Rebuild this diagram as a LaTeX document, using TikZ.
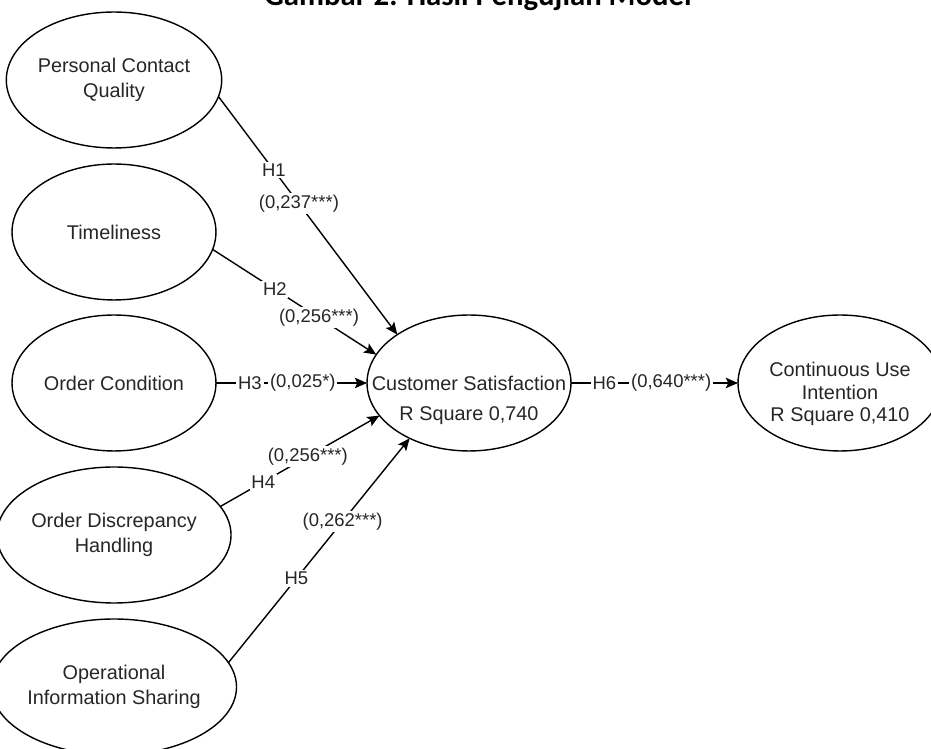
\documentclass[tikz,border=0pt]{standalone}
\usepackage{fontspec}
\setmainfont{Liberation Sans}
\newfontfamily\titlefont{Carlito}
\usetikzlibrary{shapes.geometric, arrows.meta}

\tikzset{
  construct/.style={draw, ellipse, minimum width=4.08cm, minimum height=2.72cm,
    inner sep=0pt, outer sep=0pt, align=center, text=black!85,
    font=\fontsize{11.3}{14.2}\selectfont},
  plain text/.style={inner sep=0pt, align=center, text=black!85,
    font=\fontsize{11.3}{14.2}\selectfont},
  path label/.style={fill=white, inner sep=1pt, text=black!85,
    font=\fontsize{10.5}{12}\selectfont},
}

\begin{document}
\begin{tikzpicture}[x=0.02cm, y=-0.02cm, line width=0.8pt,
    >={Stealth[length=7pt, width=6pt, inset=1.5pt]}]
    \useasboundingbox (0,0) rectangle (931,749);

    \node[anchor=base, font=\titlefont\bfseries\fontsize{17.5}{20}\selectfont]
        (title) at (478,6) {Gambar 2. Hasil Pengujian Model};

    % exogenous constructs
    \node[construct] (pcq) at (114,80) {Personal Contact\\Quality};
    \node[construct] (tim) at (114,232) {Timeliness};
    \node[construct] (oc) at (114,383) {Order Condition};
    \node[construct] (odh) at (114,535) {Order Discrepancy\\Handling};
    \node[construct] (ois) at (114,687) {Operational\\Information Sharing};

    % endogenous constructs
    \node[construct] (cs) at (469,383) {};
    \node[plain text] (cstext) at (469,383) {Customer Satisfaction};
    \node[plain text] (csr) at (469,416) {R Square 0,740};

    \node[construct] (cui) at (840,383) {};
    \node[plain text, font=\fontsize{11.3}{13}\selectfont] (cuitext) at (840,394)
        {Continuous Use\\Intention\\R Square 0,410};

    % paths
    \draw[->] (pcq.-9) -- node[path label, pos=0.31] (h1) {H1}
        node[path label, pos=0.45] (h1v) {(0,237***)} (cs.146);
    \draw[->] (tim.-10) -- node[path label, pos=0.38] (h2) {H2}
        node[path label, pos=0.65] (h2v) {(0,256***)} (cs.163);
    \draw[->] (oc.east) -- node[path label, pos=0.225] (h3) {H3}
        node[path label, pos=0.575] (h3v) {(0,025*)} (cs.west);
    \draw[->] (odh.15) -- node[path label, pos=0.27] (h4) {H4}
        node[path label, pos=0.55] (h4v) {(0,256***)} (cs.200);
    \draw[->] (ois.12) -- node[path label, pos=0.375] (h5) {H5}
        node[path label, pos=0.63] (h5v) {(0,262***)} (cs.223);
    \draw[->] (cs.east) -- node[path label, pos=0.2] (h6) {H6}
        node[path label, pos=0.6] (h6v) {(0,640***)} (cui.west);
\end{tikzpicture}
\end{document}
